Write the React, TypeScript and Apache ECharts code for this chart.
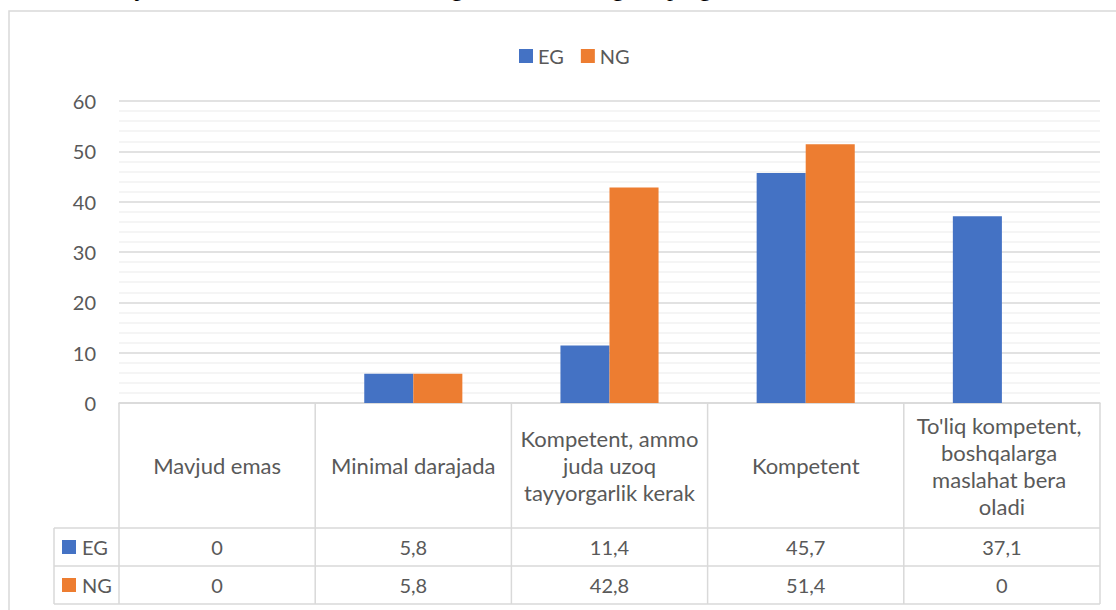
import React, { useEffect, useRef } from "react";
import * as echarts from "echarts";

const categories = [
  "Mavjud emas",
  "Minimal darajada",
  "Kompetent, ammo juda uzoq tayyorgarlik kerak",
  "Kompetent",
  "To'liq kompetent, boshqalarga maslahat bera oladi",
];
const seriesNames = ["EG", "NG"];
const egValues = [0, 5.8, 11.4, 45.7, 37.1];
const ngValues = [0, 5.8, 42.8, 51.4, 0];
const yMin = 0;
const yMax = 60;
const yStep = 10;
// fragments of the page title cut off above the chart (only descenders visible)
const titleFragments = [
  { ch: "j", x: 139 },
  { ch: "g", x: 457 },
  { ch: "g", x: 618 },
  { ch: "p", x: 673 },
  { ch: "g", x: 705 },
];

const BLUE = "#4472C4";
const ORANGE = "#ED7D31";
const TEXT = "#595959";
const GRID = "#D9D9D9";
const MINOR = "#F2F2F2";
const FONT = "Lato, 'Noto Sans', sans-serif";

const fmt = (v: number) => String(v).replace(".", ",");

export default function App() {
  const ref = useRef<HTMLDivElement>(null);

  useEffect(() => {
    if (!ref.current) return;
    const chart = echarts.init(ref.current, null, { renderer: "svg" });
    chart.setOption({
      animation: false,
      backgroundColor: "#ffffff",
      textStyle: { fontFamily: FONT },
      legend: {
        data: seriesNames,
        left: 514,
        top: 41,
        icon: "rect",
        itemWidth: 14,
        itemHeight: 14,
        itemGap: 17,
        textStyle: { fontSize: 20, color: TEXT, fontFamily: FONT },
      },
      grid: { left: 119, right: 16, top: 101, bottom: 207 },
      xAxis: {
        type: "category",
        data: categories,
        axisLabel: { show: false },
        axisTick: { show: false },
        axisLine: { show: true, lineStyle: { color: GRID, width: 1.5 } },
      },
      yAxis: {
        type: "value",
        min: yMin,
        max: yMax,
        interval: yStep,
        axisLine: { show: false },
        axisTick: { show: false },
        axisLabel: { fontSize: 20, color: TEXT, margin: 23, fontFamily: FONT },
        splitLine: { show: true, lineStyle: { color: GRID, width: 1.5 } },
        minorTick: { show: false, splitNumber: 5 },
        minorSplitLine: { show: true, lineStyle: { color: MINOR, width: 1.5 } },
      },
      series: [
        {
          name: seriesNames[0],
          type: "bar",
          data: egValues,
          itemStyle: { color: BLUE },
          barGap: "0%",
          barCategoryGap: "50%",
        },
        {
          name: seriesNames[1],
          type: "bar",
          data: ngValues,
          itemStyle: { color: ORANGE },
          barGap: "0%",
          barCategoryGap: "50%",
        },
      ],
    });

    // Data table below the plot, positioned from the category axis scale
    const p0 = chart.convertToPixel({ gridIndex: 0 }, [0, 0]) as number[];
    const p1 = chart.convertToPixel({ gridIndex: 0 }, [1, 0]) as number[];
    const band = p1[0] - p0[0];
    const left = p0[0] - band / 2;
    const right = left + band * categories.length;
    const axisY = p0[1];
    const headerH = 125;
    const rowH = 38;
    const headerBottom = axisY + headerH;
    const row1Bottom = headerBottom + rowH;
    const row2Bottom = row1Bottom + rowH;
    const labelLeft = left - 65;

    const lineStyle = { stroke: GRID, lineWidth: 1.5 };
    const els: any[] = [];
    els.push({
      type: "rect",
      silent: true,
      z: -10,
      shape: { x: 9, y: 11, width: 1400, height: 800 },
      style: { fill: "none", stroke: GRID, lineWidth: 1.5 },
    });
    for (let i = 0; i <= categories.length; i++) {
      const x = left + i * band;
      els.push({ type: "line", silent: true, shape: { x1: x, y1: axisY, x2: x, y2: row2Bottom }, style: lineStyle });
    }
    els.push({ type: "line", silent: true, shape: { x1: labelLeft, y1: headerBottom, x2: labelLeft, y2: row2Bottom }, style: lineStyle });
    [headerBottom, row1Bottom, row2Bottom].forEach((y) => {
      els.push({ type: "line", silent: true, shape: { x1: labelLeft, y1: y, x2: right, y2: y }, style: lineStyle });
    });
    categories.forEach((c, i) => {
      const cx = left + (i + 0.5) * band;
      els.push({
        type: "text",
        silent: true,
        x: cx,
        y: axisY + headerH / 2,
        style: {
          text: c,
          width: 180,
          overflow: "break",
          align: "center",
          verticalAlign: "middle",
          lineHeight: 27,
          fontSize: 22,
          fontFamily: FONT,
          fill: TEXT,
        },
      });
      [egValues, ngValues].forEach((vals, r) => {
        els.push({
          type: "text",
          silent: true,
          x: cx,
          y: headerBottom + rowH * (r + 0.5),
          style: {
            text: fmt(vals[i]),
            align: "center",
            verticalAlign: "middle",
            fontSize: 20,
            fontFamily: FONT,
            fill: TEXT,
          },
        });
      });
    });
    [BLUE, ORANGE].forEach((col, r) => {
      const cy = headerBottom + rowH * (r + 0.5);
      els.push({ type: "rect", silent: true, shape: { x: labelLeft + 8, y: cy - 7, width: 14, height: 14 }, style: { fill: col } });
      els.push({
        type: "text",
        silent: true,
        x: labelLeft + 28,
        y: cy,
        style: { text: seriesNames[r], align: "left", verticalAlign: "middle", fontSize: 20, fontFamily: FONT, fill: TEXT },
      });
    });
    titleFragments.forEach((f) => {
      els.push({
        type: "text",
        silent: true,
        x: f.x,
        y: -12,
        style: {
          text: f.ch,
          align: "center",
          verticalAlign: "middle",
          fontSize: 24,
          fontFamily: "'Liberation Serif', 'DejaVu Serif', serif",
          fill: "#000000",
        },
      });
    });
    chart.setOption({ graphic: { elements: els } });

    return () => chart.dispose();
  }, []);

  return (
    <div
      ref={ref}
      style={{ position: "absolute", left: 0, top: 0, width: 1116, height: 610 }}
    />
  );
}
